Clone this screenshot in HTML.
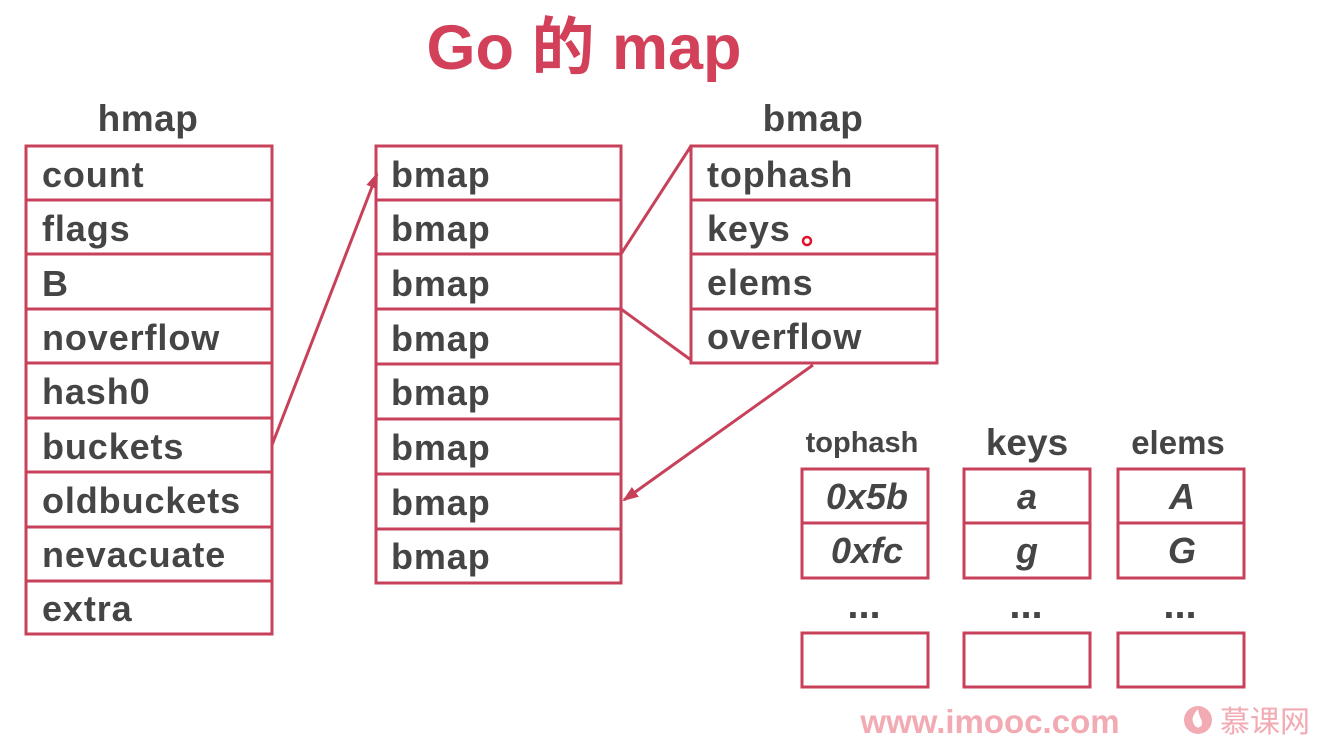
<!DOCTYPE html>
<html><head><meta charset="utf-8"><style>
html,body{margin:0;padding:0;background:#fff;}
svg{display:block;}
text{font-family:"Liberation Sans","Noto Sans CJK SC",sans-serif;font-weight:bold;fill:#454545;}
</style></head><body>
<svg width="1318" height="739" viewBox="0 0 1318 739" xmlns="http://www.w3.org/2000/svg">
<defs><marker id="ah" markerWidth="16" markerHeight="12" refX="14" refY="6" orient="auto" markerUnits="userSpaceOnUse"><path d="M0,0 L16,6 L0,12 Z" fill="#c8415a"/></marker></defs>
<text x="584" y="69" text-anchor="middle" font-size="63" style="fill:#d3405a">Go 的 map</text>
<text x="148" y="131" text-anchor="middle" font-size="37" letter-spacing="0.5">hmap</text>
<text x="813" y="131" text-anchor="middle" font-size="37" letter-spacing="0.5">bmap</text>
<g fill="none" stroke="#c8415a" stroke-width="3">
<rect x="26" y="146" width="246" height="488"/>
<path d="M26 200H272M26 254H272M26 309H272M26 363H272M26 418H272M26 472H272M26 527H272M26 581H272"/>
<rect x="376" y="146" width="245" height="437"/>
<path d="M376 200H621M376 254H621M376 309H621M376 364H621M376 419H621M376 474H621M376 529H621"/>
<rect x="691" y="146" width="246" height="217"/>
<path d="M691 200H937M691 254H937M691 309H937"/>
<rect x="802" y="469" width="126" height="109"/><path d="M802 523H928"/>
<rect x="964" y="469" width="126" height="109"/><path d="M964 523H1090"/>
<rect x="1118" y="469" width="126" height="109"/><path d="M1118 523H1244"/>
<rect x="802" y="633" width="126" height="54"/>
<rect x="964" y="633" width="126" height="54"/>
<rect x="1118" y="633" width="126" height="54"/>
<path d="M621 254L691 146M621 309L691 360"/>
<path d="M272 445L377 174" marker-end="url(#ah)"/>
<path d="M813 365L624 500" marker-end="url(#ah)"/>
</g>
<g font-size="36" letter-spacing="0.9">
<text x="42" y="187">count</text><text x="42" y="241">flags</text><text x="42" y="296">B</text>
<text x="42" y="350">noverflow</text><text x="42" y="404">hash0</text><text x="42" y="459">buckets</text>
<text x="42" y="513">oldbuckets</text><text x="42" y="567">nevacuate</text><text x="42" y="621">extra</text>
<text x="391" y="187">bmap</text><text x="391" y="241">bmap</text><text x="391" y="296">bmap</text>
<text x="391" y="351">bmap</text><text x="391" y="405">bmap</text><text x="391" y="460">bmap</text>
<text x="391" y="515">bmap</text><text x="391" y="569">bmap</text>
<text x="707" y="187">tophash</text><text x="707" y="241">keys</text>
<text x="707" y="295">elems</text><text x="707" y="349">overflow</text>
</g>
<circle cx="807" cy="241" r="4" fill="none" stroke="#e0102a" stroke-width="2.5"/>
<text x="862" y="452" text-anchor="middle" font-size="29">tophash</text>
<text x="1027" y="455" text-anchor="middle" font-size="37">keys</text>
<text x="1178" y="454" text-anchor="middle" font-size="33">elems</text>
<g font-size="36" font-style="italic" text-anchor="middle">
<text x="867" y="509">0x5b</text><text x="867" y="563">0xfc</text>
<text x="1027" y="509">a</text><text x="1027" y="563">g</text>
<text x="1182" y="509">A</text><text x="1182" y="563">G</text>
</g>
<g font-size="40" text-anchor="middle">
<text x="864" y="618">...</text><text x="1026" y="618">...</text><text x="1180" y="618">...</text>
</g>
<text x="990" y="733" text-anchor="middle" font-size="33" style="fill:#f2aab3">www.imooc.com</text>
<circle cx="1198" cy="720" r="14" fill="#f2aab3"/>
<path d="M1198 709c-6 7-7 11-3 17 3 3 7 1 7-3 0-4-3-6-4-14z" fill="#fff"/>
<text x="1220" y="732" font-size="30" style="fill:#f2aab3;font-weight:normal">慕课网</text>
</svg>
</body></html>
